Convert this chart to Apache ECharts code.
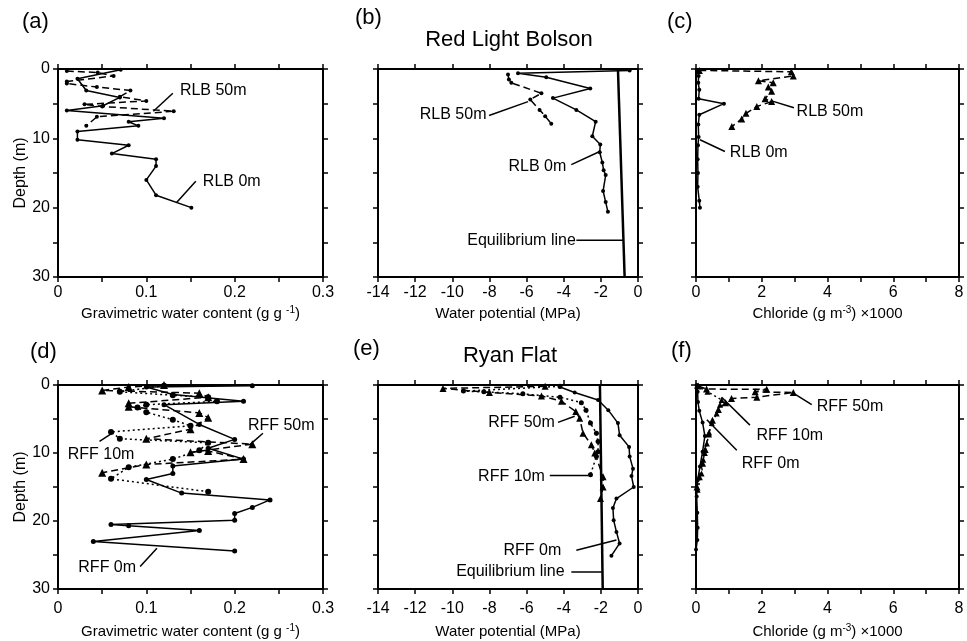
<!DOCTYPE html>
<html>
<head>
<meta charset="UTF-8">
<title>Red Light Bolson / Ryan Flat profiles</title>
<script src="https://cdn.jsdelivr.net/npm/echarts@6/dist/echarts.min.js"></script>
<style>
  html, body { margin: 0; padding: 0; background: #fff; }
  #chart { width: 967px; height: 641px; }
</style>
</head>
<body>
<div id="chart"></div>
<script>
// every pair is [value, depth in m]

// (a) gravimetric water content, Red Light Bolson
var rlbWater0m = [[0.071,0.1],[0.022,1.4],[0.032,3.1],[0.070,4.1],[0.051,5.3],[0.010,6.0],[0.120,7.1],[0.080,7.6],[0.091,8.2],[0.022,9.0],[0.022,10.2],[0.080,11.0],[0.061,12.2],[0.111,13.0],[0.111,14.0],[0.100,16.0],[0.111,18.2],[0.151,20.0]];
var rlbWater50m = [[0.010,0.3],[0.045,0.5],[0.063,1.0],[0.010,1.8],[0.010,2.1],[0.044,2.6],[0.082,3.1],[0.070,4.0],[0.100,4.6],[0.030,5.1],[0.050,5.4],[0.131,6.1],[0.044,6.9],[0.032,8.2]];

// (b) water potential, Red Light Bolson
var rlbPot0m = [[-0.45,0.2],[-6.46,0.6],[-4.94,1.2],[-2.57,2.8],[-4.58,4.2],[-3.32,5.9],[-2.28,7.6],[-2.46,9.7],[-2.03,10.9],[-2.06,12.0],[-1.92,13.5],[-1.85,14.6],[-1.74,15.3],[-1.88,17.6],[-1.74,19.2],[-1.62,20.6]];
var rlbPot50m = [[-7.0,0.8],[-6.95,1.5],[-6.82,2.0],[-5.2,3.5],[-5.8,4.4],[-5.3,5.9],[-5.0,6.8],[-4.67,7.9]];
var rlbEquilibrium = [[-1.08,0],[-0.72,30]];

// (c) chloride x1000, Red Light Bolson
var rlbCl0m = [[0.05,0.2],[0.08,1.0],[0.07,2.0],[0.10,3.0],[0.08,4.3],[0.85,5.0],[0.10,6.6],[0.07,8.0],[0.08,9.8],[0.06,11.0],[0.05,13.0],[0.06,15.0],[0.05,17.0],[0.10,19.0],[0.12,20.0]];
var rlbCl50m = [[0.10,0.2],[2.90,0.4],[2.96,1.0],[1.90,1.7],[2.35,2.0],[2.20,2.6],[2.30,3.2],[2.10,4.3],[2.30,4.7],[1.85,5.4],[1.52,6.4],[1.39,7.2],[1.09,8.3]];

// (d) gravimetric water content, Ryan Flat
var rffWater0m = [[0.22,0.1],[0.10,0.3],[0.13,1.4],[0.21,2.4],[0.12,2.9],[0.16,5.8],[0.20,8.0],[0.17,9.3],[0.21,10.9],[0.13,11.9],[0.13,13.0],[0.10,13.9],[0.14,15.9],[0.24,16.9],[0.22,18.0],[0.20,18.9],[0.20,19.9],[0.06,20.5],[0.08,20.7],[0.16,21.4],[0.04,23.0],[0.20,24.4]];
var rffWater10m = [[0.12,0.1],[0.07,1.0],[0.13,1.5],[0.17,1.8],[0.18,2.4],[0.10,2.9],[0.09,3.3],[0.10,4.0],[0.13,5.1],[0.15,6.0],[0.06,6.9],[0.07,7.9],[0.17,8.5],[0.16,9.6],[0.13,10.9],[0.08,12.1],[0.06,13.8],[0.17,15.7]];
var rffWater50m = [[0.12,0.0],[0.08,0.3],[0.05,0.8],[0.16,1.2],[0.17,1.8],[0.08,2.7],[0.08,3.2],[0.16,4.1],[0.17,4.8],[0.15,6.5],[0.10,7.9],[0.22,8.7],[0.15,9.9],[0.17,9.7],[0.21,10.9],[0.10,11.7],[0.05,12.9]];

// (e) water potential, Ryan Flat
var rffPot0m = [[-4.2,0.3],[-3.41,1.1],[-2.15,2.2],[-1.6,3.7],[-1.08,5.6],[-0.99,7.4],[-0.48,9.1],[-0.45,10.5],[-0.27,12.3],[-0.35,13.4],[-0.23,15.0],[-1.16,16.7],[-1.35,18.1],[-1.31,19.9],[-1.16,21.6],[-0.99,23.3],[-1.43,25.1]];
var rffPot10m = [[-4.2,0.2],[-9.4,0.9],[-8.3,1.0],[-6.2,1.3],[-4.2,1.8],[-3.05,2.6],[-2.8,3.7],[-2.56,5.6],[-2.24,7.1],[-2.15,8.3],[-2.15,9.8],[-2.24,10.5],[-2.56,13.2]];
var rffPot50m = [[-5.0,0.2],[-10.5,0.5],[-8.0,1.1],[-5.2,1.6],[-4.12,2.4],[-3.35,3.9],[-3.14,4.9],[-2.96,7.1],[-2.51,8.8],[-2.33,10.0],[-1.88,13.5],[-1.88,15.0],[-2.02,16.7]];
var rffEquilibrium = [[-2.05,0],[-1.9,30]];

// (f) chloride x1000, Ryan Flat
var rffCl0m = [[0.02,0.0],[0.05,1.0],[0.06,2.5],[0.10,3.8],[0.20,5.5],[0.27,7.5],[0.20,9.8],[0.12,12.0],[0.05,14.0],[0.02,16.4],[0.04,18.8],[0.05,21.0],[0.04,22.8],[0.0,24.2]];
var rffCl10m = [[0.03,0.1],[0.35,1.0],[0.78,2.2],[0.73,2.9],[0.63,4.2],[0.48,5.6],[0.40,7.0],[0.33,8.6],[0.27,10.0],[0.22,11.0],[0.17,13.0],[0.05,15.4]];
var rffCl50m = [[0.07,0.15],[0.32,0.6],[2.15,0.64],[1.8,1.0],[2.96,1.1],[1.85,1.8],[1.08,2.0],[0.9,2.6],[0.68,3.6],[0.5,5.2],[0.38,7.2],[0.28,9.5],[0.2,11.5],[0.1,13.5],[0.03,15.0]];

// tick labels
var depthLabels = [0, 10, 20, 30];
var waterLabels = [0, 0.1, 0.2, 0.3];
var potentialLabels = [-14, -12, -10, -8, -6, -4, -2, 0];
var chlorideLabels = [0, 2, 4, 6, 8];

// curve labels with leader lines (panel, text, anchor, which side text sits, leader from, leader to)
var notes = [
  [0, 'RLB 50m', [0.138, 3.1], 'start', [0.13, 3.5], [0.108, 6.1]],
  [0, 'RLB 0m', [0.164, 16.3], 'start', [0.156, 16.2], [0.134, 19.3]],
  [1, 'RLB 50m', [-8.16, 6.6], 'end', [-8.02, 6.7], [-5.92, 4.7]],
  [1, 'RLB 0m', [-3.86, 14.1], 'end', [-3.59, 13.8], [-2.06, 11.9]],
  [1, 'Equilibrium line', [-3.35, 24.75], 'end', [-3.32, 24.7], [-0.81, 24.7]],
  [2, 'RLB 50m', [3.06, 6.1], 'start', [2.98, 5.6], [2.3, 4.6]],
  [2, 'RLB 0m', [1.03, 12.1], 'start', [0.88, 11.9], [0.12, 10.2]],
  [3, 'RFF 50m', [0.215, 5.9], 'start', [0.232, 7.1], [0.217, 8.8]],
  [3, 'RFF 10m', [0.011, 10.3], 'start', [0.047, 8.3], [0.061, 7.1]],
  [3, 'RFF 0m', [0.023, 26.8], 'start', [0.093, 26.7], [0.112, 24.0]],
  [4, 'RFF 50m', [-4.48, 5.6], 'end', [-4.31, 5.5], [-3.41, 4.6]],
  [4, 'RFF 10m', [-5.02, 13.4], 'end', [-4.75, 13.3], [-2.69, 13.3]],
  [4, 'RFF 0m', [-4.13, 24.3], 'end', [-3.32, 24.3], [-1.16, 22.8]],
  [4, 'Equilibrium line', [-3.95, 27.5], 'end', [-3.59, 27.5], [-1.92, 27.5]],
  [5, 'RFF 50m', [3.67, 3.2], 'start', [3.52, 2.9], [2.96, 1.2]],
  [5, 'RFF 10m', [1.84, 7.4], 'start', [1.64, 5.9], [0.78, 1.8]],
  [5, 'RFF 0m', [1.39, 11.5], 'start', [1.24, 9.6], [0.33, 5.1]]
];

var FONT = "'Liberation Sans', Arial, Helvetica, sans-serif";
var INK = '#000';

var grids = [
  { left: 58, top: 69, width: 265, height: 208 },
  { left: 378, top: 69, width: 260, height: 208 },
  { left: 696, top: 69, width: 263, height: 208 },
  { left: 58, top: 385, width: 265, height: 204 },
  { left: 378, top: 385, width: 260, height: 204 },
  { left: 696, top: 385, width: 263, height: 204 }
];

function inList(list, v) {
  for (var i = 0; i < list.length; i++) {
    if (Math.abs(list[i] - v) < 1e-6) return true;
  }
  return false;
}

var nameRich = {
  t: { fontSize: 15, fontFamily: FONT, color: INK, lineHeight: 18 },
  s: { fontSize: 10, fontFamily: FONT, color: INK, verticalAlign: 'top', lineHeight: 18 }
};

var columns = [
  { min: 0, max: 0.3, interval: 0.05, labels: waterLabels,
    name: '{t|Gravimetric water content (g g }{s|-1}{t|)}' },
  { min: -14, max: 0, interval: 2, labels: potentialLabels,
    name: '{t|Water potential (MPa)}' },
  { min: 0, max: 8, interval: 1, labels: chlorideLabels,
    name: '{t|Chloride (g m}{s|-3}{t|) \u00d71000}' }
];

var axisLine = { show: true, onZero: false, lineStyle: { color: INK, width: 2 } };
var axisTick = { show: true, inside: false, length: 5, lineStyle: { color: INK, width: 1.5 } };

var xAxes = [], yAxes = [];
grids.forEach(function (gr, g) {
  var col = columns[g % 3];
  var bottomRow = g >= 3;
  xAxes.push({
    gridIndex: g, type: 'value', position: 'bottom',
    min: col.min, max: col.max, interval: col.interval,
    axisLine: axisLine, axisTick: axisTick, splitLine: { show: false },
    axisLabel: {
      show: true, margin: bottomRow ? 12 : 8, fontSize: 16, fontFamily: FONT, color: INK,
      showMinLabel: true, showMaxLabel: true,
      formatter: function (v) { return inList(col.labels, v) ? String(+v.toFixed(2)) : ''; }
    },
    name: col.name, nameLocation: 'middle', nameGap: bottomRow ? 34 : 28,
    nameTextStyle: { rich: nameRich }
  });
  xAxes.push({
    gridIndex: g, type: 'value', position: 'top',
    min: col.min, max: col.max, interval: col.interval,
    axisLine: axisLine, axisTick: axisTick, splitLine: { show: false },
    axisLabel: { show: false }
  });
  var leftCol = g % 3 === 0;
  yAxes.push({
    gridIndex: g, type: 'value', position: 'left', inverse: true,
    min: 0, max: 30, interval: 5,
    axisLine: axisLine, axisTick: axisTick, splitLine: { show: false },
    axisLabel: {
      show: leftCol, margin: 8, fontSize: 16, fontFamily: FONT, color: INK,
      formatter: function (v) { return inList(depthLabels, v) ? String(v) : ''; }
    },
    name: leftCol ? 'Depth (m)' : '', nameLocation: 'middle', nameGap: 29, nameRotate: 90,
    nameTextStyle: { fontSize: 16, fontFamily: FONT, color: INK }
  });
  yAxes.push({
    gridIndex: g, type: 'value', position: 'right', inverse: true,
    min: 0, max: 30, interval: 5,
    axisLine: axisLine, axisTick: axisTick, splitLine: { show: false },
    axisLabel: { show: false }
  });
});

function profile(g, data, dash, symbol, size) {
  return {
    type: 'line', xAxisIndex: 2 * g, yAxisIndex: 2 * g, data: data,
    symbol: symbol || 'none', symbolSize: size || 4, showSymbol: !!symbol,
    lineStyle: { color: INK, width: 1.5, type: dash || 'solid' },
    itemStyle: { color: INK, borderWidth: 0, opacity: 1 },
    silent: true, z: 3
  };
}

var DASHED = [7, 4];
var DOTTED = [2, 3];

var series = [
  profile(0, rlbWater0m, 'solid', 'circle', 4),
  profile(0, rlbWater50m, DASHED, 'circle', 4),
  profile(1, rlbPot0m, 'solid', 'circle', 4),
  profile(1, rlbPot50m, DASHED, 'circle', 4),
  profile(2, rlbCl0m, 'solid', 'circle', 4),
  profile(2, rlbCl50m, DASHED, 'triangle', 7),
  profile(3, rffWater0m, 'solid', 'circle', 5),
  profile(3, rffWater10m, DOTTED, 'circle', 6),
  profile(3, rffWater50m, DASHED, 'triangle', 8),
  profile(4, rffPot0m, 'solid', 'circle', 4),
  profile(4, rffPot10m, DOTTED, 'circle', 5),
  profile(4, rffPot50m, DASHED, 'triangle', 7),
  profile(5, rffCl0m, 'solid', 'circle', 4),
  profile(5, rffCl10m, DOTTED, 'triangle', 6),
  profile(5, rffCl50m, DASHED, 'triangle', 7)
];

var eq1 = profile(1, rlbEquilibrium);
eq1.lineStyle.width = 2.5;
var eq2 = profile(4, rffEquilibrium);
eq2.lineStyle.width = 2.5;
series.push(eq1, eq2);

notes.forEach(function (n) {
  var g = n[0];
  series.push({
    type: 'line', xAxisIndex: 2 * g, yAxisIndex: 2 * g,
    data: [n[4], n[5]], symbol: 'none', silent: true,
    lineStyle: { color: INK, width: 1.5 }
  });
  series.push({
    type: 'scatter', xAxisIndex: 2 * g, yAxisIndex: 2 * g,
    data: [n[2]], symbolSize: 0, silent: true,
    itemStyle: { opacity: 1 },
    label: {
      show: true, formatter: n[1], distance: 0,
      position: n[3] === 'start' ? 'right' : 'left',
      fontSize: 16, fontFamily: FONT, color: INK, opacity: 1
    }
  });
});

function heading(text, left, top, size, center) {
  return {
    text: text, left: left, top: top, padding: 0,
    textAlign: center ? 'center' : 'left',
    textStyle: { fontSize: size, fontWeight: 'normal', fontFamily: FONT, color: INK }
  };
}

var chart = echarts.init(document.getElementById('chart'));
chart.setOption({
  animation: false,
  backgroundColor: '#fff',
  title: [
    heading('(a)', 22, 11, 22), heading('(b)', 355, 7, 22), heading('(c)', 667, 11, 22),
    heading('(d)', 30, 341, 22), heading('(e)', 353, 338, 22), heading('(f)', 671, 340, 22),
    heading('Red Light Bolson', 509, 29, 22, true),
    heading('Ryan Flat', 510, 345, 22, true)
  ],
  grid: grids,
  xAxis: xAxes,
  yAxis: yAxes,
  series: series
});
</script>
</body>
</html>
